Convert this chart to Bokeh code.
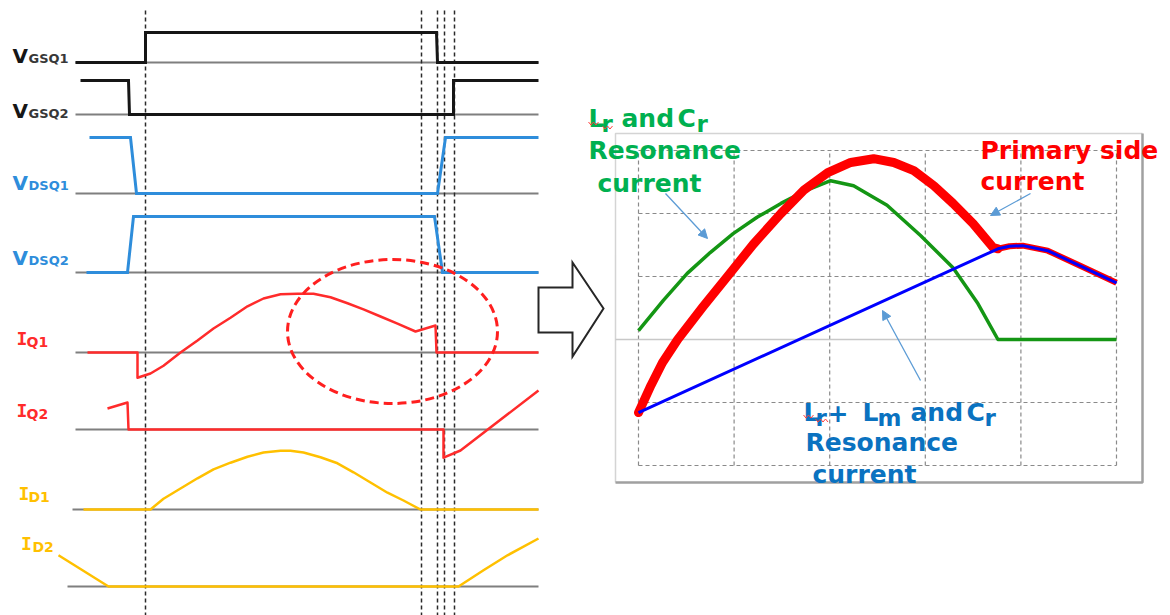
from bokeh.plotting import figure
from bokeh.models import Range1d, Arrow, NormalHead
from bokeh.core.properties import value
from bokeh.embed import file_html
from bokeh.resources import INLINE

# ------------------------------------------------------------------
# DATA - left: switching waveforms (time in ns, levels normalised)
# ------------------------------------------------------------------
T_END = 463
EDGE_TIMES = [70, 346, 362, 369, 379]

vgsq1_t = [0, 70, 70, 361, 362, 463]
vgsq1_v = [0, 0, 1, 1, 0, 0]
vgsq2_t = [5, 53, 54, 378, 378, 463]
vgsq2_v = [1, 1, 0, 0, 1, 1]
vdsq1_t = [14, 55, 61, 362, 370, 463]
vdsq1_v = [1, 1, 0, 0, 1, 1]
vdsq2_t = [11, 52, 58, 359, 367, 463]
vdsq2_v = [0, 0, 1, 1, 0, 0]
iq1_t = [12, 62, 62, 75, 88, 105, 122, 138, 155, 172, 188, 205, 222, 238,
         255, 272, 288, 305, 322, 340, 360, 361, 463]
iq1_v = [0, 0, -0.42, -0.35, -0.22, 0, 0.2, 0.4, 0.58, 0.77, 0.9, 0.97, 0.98,
         0.98, 0.92, 0.82, 0.72, 0.6, 0.48, 0.35, 0.45, 0, 0]
iq2_t = [32, 52, 53, 368, 368, 385, 463]
iq2_v = [0.35, 0.45, 0, 0, -0.47, -0.35, 0.65]
id1_t = [8, 75, 88, 105, 122, 138, 155, 172, 188, 205, 215, 228, 245, 262,
         278, 295, 312, 328, 345, 463]
id1_v = [0, 0, 0.18, 0.35, 0.52, 0.67, 0.78, 0.88, 0.95, 0.98, 0.98, 0.95,
         0.87, 0.77, 0.62, 0.45, 0.28, 0.15, 0, 0]
id2_t = [-17, 33, 383, 408, 432, 463]
id2_v = [0.52, 0, 0, 0.27, 0.52, 0.8]

signal_names = ["VGSQ1", "VGSQ2", "VDSQ1", "VDSQ2", "IQ1", "IQ2", "ID1", "ID2"]
signal_t = [vgsq1_t, vgsq2_t, vdsq1_t, vdsq2_t, iq1_t, iq2_t, id1_t, id2_t]
signal_v = [vgsq1_v, vgsq2_v, vdsq1_v, vdsq2_v, iq1_v, iq2_v, id1_v, id2_v]
baseline_start = [0, 0, 0, 0, 0, 0, -3, -8]

# ------------------------------------------------------------------
# DATA - right: resonance currents (grid units)
# ------------------------------------------------------------------
green_x = [0, 0.26, 0.51, 0.75, 0.99, 1.24, 1.49, 1.73, 2.01, 2.25, 2.6, 2.95,
           3.29, 3.55, 3.76, 5.0]
green_y = [0.14, 0.62, 1.05, 1.38, 1.68, 1.94, 2.16, 2.35, 2.52, 2.44, 2.13,
           1.65, 1.14, 0.57, 0.0, 0.0]
red_x = [0, 0.13, 0.25, 0.41, 0.67, 0.93, 1.2, 1.49, 1.73, 1.98, 2.22, 2.46,
         2.67, 2.88, 3.09, 3.29, 3.5, 3.71, 3.76]
red_y = [-1.16, -0.73, -0.37, 0, 0.51, 1.0, 1.51, 2.0, 2.37, 2.65, 2.81, 2.87,
         2.81, 2.68, 2.44, 2.16, 1.84, 1.46, 1.44]
blue_x = [0, 3.76, 3.88, 4.02, 4.28, 4.62, 5.0]
blue_y = [-1.16, 1.44, 1.48, 1.49, 1.41, 1.17, 0.9]
grid_x = [0, 1, 2, 3, 4, 5]
grid_y = [-2, -1, 1, 2, 3]

# ------------------------------------------------------------------
# LAYOUT / STYLE
# ------------------------------------------------------------------
W, H = 1170, 615
PX0, PY0 = 0, 0                       # page offset of the canvas
T_PX = 75                             # screen x of t = 0
ROW_BASE = [62, 114, 193, 272, 352, 429, 509, 586]
ROW_AMP = [30, 34, 56, 56, 60, 60, 60, 60]
BLACK, BLUE, RED, GOLD = "#161616", "#2e8ddb", "#ff2b2b", "#ffc000"
ROW_COLOR = [BLACK, BLACK, BLUE, BLUE, RED, RED, GOLD, GOLD]
ROW_WIDTH = [3, 3, 3, 3, 2.5, 2.5, 2.5, 2.5]
GX0, GXS = 638, 95.6                  # screen x of gx=0, px per unit
GY0, GYS = 339, 63                    # screen y of gy=0, px per unit

p = figure(width=W, height=H,
           x_range=Range1d(PX0, PX0 + W), y_range=Range1d(PY0 + H, PY0),
           output_backend="svg", toolbar_location=None,
           x_axis_location=None, y_axis_location=None,
           min_border=0, outline_line_color=None,
           background_fill_color="white", border_fill_color="white")
p.grid.visible = False

p.extra_x_ranges = {
    "t": Range1d(PX0 - T_PX, PX0 + W - T_PX),
    "gx": Range1d((PX0 - GX0) / GXS, (PX0 + W - GX0) / GXS),
}
yr = {"gy": Range1d((GY0 - (PY0 + H)) / GYS, (GY0 - PY0) / GYS)}
for i, (b, a) in enumerate(zip(ROW_BASE, ROW_AMP)):
    yr[f"row{i}"] = Range1d((b - (PY0 + H)) / a, (b - PY0) / a)
p.extra_y_ranges = yr

# ---------------- left panel ----------------
for i in range(len(signal_names)):
    p.line([baseline_start[i], T_END], [0, 0], x_range_name="t",
           y_range_name=f"row{i}", line_color="#7f7f7f", line_width=2)

for te in EDGE_TIMES:
    p.line([te, te], [10, 615], x_range_name="t", line_color="#2a2a2a",
           line_width=1.5, line_dash="4 3")

for i in range(len(signal_names)):
    p.line(signal_t[i], signal_v[i], x_range_name="t", y_range_name=f"row{i}",
           line_color=ROW_COLOR[i], line_width=ROW_WIDTH[i],
           line_join="miter" if i < 4 else "round")

# dashed ellipse highlight
p.ellipse(x=[392], y=[331], width=[210], height=[144], width_units="screen",
          height_units="screen", fill_color=None, line_color="#ff1f1f",
          line_width=3, line_dash="9 5")

# labels
def label(x, y, txt, size, color, font="DejaVu Sans", align="left"):
    p.text(x=[x], y=[y], text=[txt], text_font=value(font),
           text_font_style="bold", text_font_size=size, text_color=color,
           text_baseline="alphabetic", text_align=align)

v_rows = [(55, "GSQ1", BLACK, "#383838"), (110, "GSQ2", BLACK, "#383838"),
          (182, "DSQ1", BLUE, BLUE), (257, "DSQ2", BLUE, BLUE)]
for yb, sub, c1, c2 in v_rows:
    label(12, yb, "V", "20px", c1)
    label(28, yb + 3, sub, "13px", c2)

i_rows = [(21.5, 26, 338, "Q1", RED), (21.5, 26, 410, "Q2", RED),
          (23.5, 28, 493, "D1", GOLD), (26, 32, 543, "D2", GOLD)]
for xi, xs, yb, sub, c in i_rows:
    label(xi, yb, "I", "18px", c, font="DejaVu Sans Mono", align="center")
    label(xs, yb + 3, sub, "14px", c)

# big hollow arrow
p.patch([538, 572, 572, 603, 572, 572, 538],
        [287, 287, 262, 308, 356, 332, 332],
        fill_color="white", line_color="#262626", line_width=2,
        line_join="miter")

# ---------------- right panel ----------------
# frame
p.line([615, 615, 1142], [482, 133, 133], line_color="#d4d4d4", line_width=1.5)
p.line([1142, 1142, 615], [133, 482, 482], line_color="#a0a0a0", line_width=2.5)

# grid
p.multi_line([[g, g] for g in grid_x], [[-2, 3] for g in grid_x],
             x_range_name="gx", y_range_name="gy", line_color="#8a8a8a",
             line_width=1.2, line_dash="4 3")
p.multi_line([[0, 5] for g in grid_y], [[g, g] for g in grid_y],
             x_range_name="gx", y_range_name="gy", line_color="#8a8a8a",
             line_width=1.2, line_dash="4 3")
p.line([(615 - GX0) / GXS, 5], [0, 0], x_range_name="gx", y_range_name="gy",
       line_color="#c8c8c8", line_width=1.5)

# curves
tail_x = [x for x in blue_x if x >= red_x[-1]]
tail_y = [y for x, y in zip(blue_x, blue_y) if x >= red_x[-1]]
p.line(green_x, green_y, x_range_name="gx", y_range_name="gy",
       line_color="#149614", line_width=3.5, line_join="round")
p.line(red_x, red_y, x_range_name="gx", y_range_name="gy",
       line_color="#ff0000", line_width=9, line_join="round", line_cap="round")
p.line(tail_x, tail_y, x_range_name="gx", y_range_name="gy",
       line_color="#ff0000", line_width=6, line_join="round")
p.line(blue_x, blue_y, x_range_name="gx", y_range_name="gy",
       line_color="#0000ff", line_width=3, line_join="round")

# annotation texts
GREEN_T, RED_T, BLUE_T = "#00b050", "#ff0000", "#0a72c0"
label(588, 118, "L", "25px", GREEN_T)
label(601, 123, "r", "23px", GREEN_T)
label(621, 118, "and", "25px", GREEN_T)
label(677, 118, "C", "25px", GREEN_T)
label(696, 123, "r", "23px", GREEN_T)
label(588, 150, "Resonance", "25px", GREEN_T)
label(597, 183, "current", "25px", GREEN_T)

label(980, 150, "Primary side", "25px", RED_T)
label(980, 181, "current", "25px", RED_T)

label(803, 412, "L", "25px", BLUE_T)
label(815, 417, "r", "23px", BLUE_T)
label(827, 412, "+", "25px", BLUE_T)
label(862, 412, "L", "25px", BLUE_T)
label(877, 417, "m", "23px", BLUE_T)
label(910, 412, "and", "25px", BLUE_T)
label(966, 412, "C", "25px", BLUE_T)
label(984, 417, "r", "23px", BLUE_T)
label(805, 442, "Resonance", "25px", BLUE_T)
label(812, 474, "current", "25px", BLUE_T)

# spell-check squiggles
def squiggle(x0, x1, y):
    xs, ys, k, x = [], [], 0, x0
    while x <= x1:
        xs.append(x)
        ys.append(y + (1.5 if k % 2 else -1.5))
        x += 2.5
        k += 1
    p.line(xs, ys, line_color="#ff4040", line_width=1)

squiggle(588, 600, 123)
squiggle(602, 614, 127)
squiggle(803, 814, 416)
squiggle(815, 829, 420)

# pointer arrows
ARROW_C = "#5b9bd5"
for xs_, ys_, xe_, ye_ in [(665, 193, 707, 238), (1030, 193, 990, 215),
                           (920, 380, 882, 310)]:
    p.add_layout(Arrow(end=NormalHead(size=9, fill_color=ARROW_C,
                                      line_color=ARROW_C),
                       x_start=xs_, y_start=ys_, x_end=xe_, y_end=ye_,
                       line_color=ARROW_C, line_width=1.3))

open("out.html", "w").write(file_html(p, INLINE))
